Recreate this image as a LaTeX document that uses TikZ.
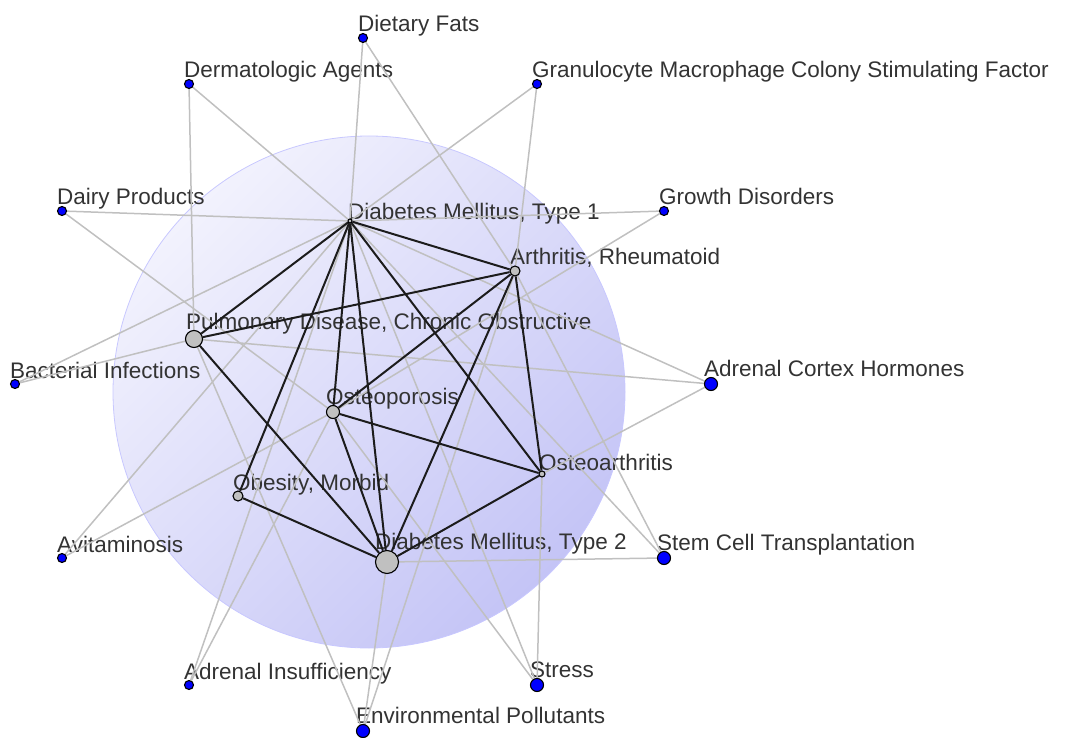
\documentclass[tikz,border=0pt]{standalone}
\usepackage{fontspec}
\setmainfont{Liberation Sans}
\definecolor{nodeblue}{RGB}{0,0,255}
\definecolor{nodegray}{RGB}{192,192,192}
\definecolor{edgegray}{RGB}{192,192,192}
\definecolor{edgeblack}{RGB}{28,28,28}
\definecolor{textgray}{RGB}{51,51,51}
\definecolor{discA}{RGB}{242,242,253}
\definecolor{discB}{RGB}{196,196,246}
\definecolor{discedge}{RGB}{200,200,255}
\pgfdeclarelayer{back}
\pgfdeclarelayer{edgelayer}
\pgfsetlayers{back,edgelayer,main}
\begin{document}
\begin{tikzpicture}[x=1pt,y=-1pt,
  dot/.style={circle,draw=black,line width=1.1pt,inner sep=0pt},
  outer/.style={dot,fill=nodeblue,minimum size=9pt},
  outerbig/.style={dot,fill=nodeblue,minimum size=13pt},
  inner/.style={dot,fill=nodegray},
  lbl/.style={anchor=base west,inner sep=0pt,text=textgray,font=\fontsize{22.5}{27}\selectfont},
  weak/.style={draw=edgegray,line width=1.5pt},
  strong/.style={draw=edgeblack,line width=2pt}]
\useasboundingbox (0,0) rectangle (1066,738);
\begin{pgfonlayer}{back}
\path[draw=discedge,line width=0.8pt,top color=discA,bottom color=discB,shading angle=45] (369,392) circle[radius=256];
\end{pgfonlayer}
% outer nodes
\node[outer] (DF) at (363,38) {};
\node[outer] (DA) at (189,84) {};
\node[outer] (GM) at (537,84) {};
\node[outer] (DP) at (62,211) {};
\node[outer] (GD) at (664,211) {};
\node[outer] (BI) at (15,384) {};
\node[outerbig] (ACH) at (711,384) {};
\node[outer] (AV) at (62,558) {};
\node[outerbig] (SCT) at (664,558) {};
\node[outer] (AI) at (189,685) {};
\node[outerbig] (ST) at (537,685) {};
\node[outerbig] (EP) at (363,731) {};
% inner nodes
\node[inner,minimum size=4pt] (DM1) at (350,221) {};
\node[inner,minimum size=10pt] (AR) at (515,271) {};
\node[inner,minimum size=17pt] (COPD) at (194,339) {};
\node[inner,minimum size=13pt] (OP) at (333,412) {};
\node[inner,minimum size=6pt] (OA) at (542,474) {};
\node[inner,minimum size=10pt] (OB) at (238,496) {};
\node[inner,minimum size=23pt] (DM2) at (387,562) {};
% labels
\begin{pgfonlayer}{back}
\node[lbl] (lDF) at (358,32) {Dietary Fats};
\node[lbl] (lDA) at (184,78) {Dermatologic Agents};
\node[lbl] (lGM) at (532,78) {Granulocyte Macrophage Colony Stimulating Factor};
\node[lbl] (lDP) at (57,205) {Dairy Products};
\node[lbl] (lGD) at (659,205) {Growth Disorders};
\node[lbl] (lBI) at (10,378) {Bacterial Infections};
\node[lbl] (lACH) at (704,376) {Adrenal Cortex Hormones};
\node[lbl] (lAV) at (57,552) {Avitaminosis};
\node[lbl] (lSCT) at (657,550) {Stem Cell Transplantation};
\node[lbl] (lAI) at (184,679) {Adrenal Insufficiency};
\node[lbl] (lST) at (530,677) {Stress};
\node[lbl] (lEP) at (356,723) {Environmental Pollutants};
\node[lbl] (lDM1) at (348,220) {Diabetes Mellitus, Type 1};
\node[lbl] (lAR) at (510,265) {Arthritis, Rheumatoid};
\node[lbl] (lCOPD) at (186,329) {Pulmonary Disease, Chronic Obstructive};
\node[lbl] (lOP) at (326,404) {Osteoporosis};
\node[lbl] (lOA) at (539,470) {Osteoarthritis};
\node[lbl] (lOB) at (233,490) {Obesity, Morbid};
\node[lbl] (lDM2) at (375,549) {Diabetes Mellitus, Type 2};
\end{pgfonlayer}
\begin{pgfonlayer}{edgelayer}
% gray edges
\draw[weak] (DF) -- (DM1);
\draw[weak] (DF) -- (AR);
\draw[weak] (DA) -- (DM1);
\draw[weak] (DA) -- (COPD);
\draw[weak] (GM) -- (DM1);
\draw[weak] (GM) -- (AR);
\draw[weak] (DP) -- (DM1);
\draw[weak] (DP) -- (OP);
\draw[weak] (GD) -- (DM1);
\draw[weak] (GD) -- (OP);
\draw[weak] (BI) -- (DM1);
\draw[weak] (BI) -- (COPD);
\draw[weak] (ACH) -- (DM1);
\draw[weak] (ACH) -- (COPD);
\draw[weak] (ACH) -- (OA);
\draw[weak] (AV) -- (DM1);
\draw[weak] (AV) -- (OP);
\draw[weak] (SCT) -- (DM1);
\draw[weak] (SCT) -- (DM2);
\draw[weak] (SCT) -- (AR);
\draw[weak] (AI) -- (DM1);
\draw[weak] (AI) -- (OP);
\draw[weak] (ST) -- (DM1);
\draw[weak] (ST) -- (OP);
\draw[weak] (ST) -- (OA);
\draw[weak] (EP) -- (COPD);
\draw[weak] (EP) -- (DM2);
\draw[weak] (EP) -- (AR);
% black edges
\draw[strong] (DM1) -- (AR);
\draw[strong] (DM1) -- (COPD);
\draw[strong] (DM1) -- (OB);
\draw[strong] (DM1) -- (OP);
\draw[strong] (DM1) -- (DM2);
\draw[strong] (DM1) -- (OA);
\draw[strong] (AR) -- (COPD);
\draw[strong] (AR) -- (OP);
\draw[strong] (AR) -- (DM2);
\draw[strong] (AR) -- (OA);
\draw[strong] (COPD) -- (DM2);
\draw[strong] (OP) -- (DM2);
\draw[strong] (OP) -- (OA);
\draw[strong] (OB) -- (DM2);
\draw[strong] (OA) -- (DM2);
\end{pgfonlayer}
\end{tikzpicture}
\end{document}
